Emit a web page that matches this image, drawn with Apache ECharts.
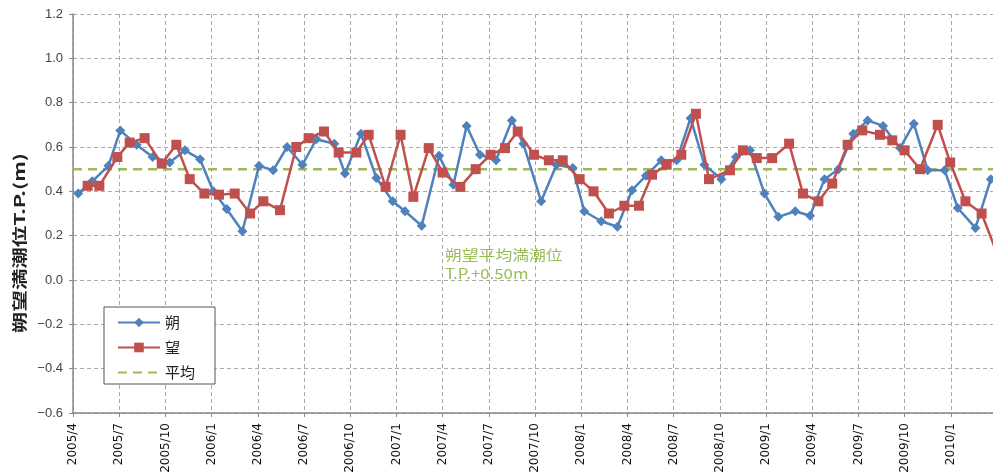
<!DOCTYPE html>
<html>
<head>
<meta charset="utf-8">
<script src="https://cdn.jsdelivr.net/npm/echarts@6/dist/echarts.min.js"></script>
<style>
html, body { margin: 0; padding: 0; background: #fff; }
#main { width: 993px; height: 476px; }
</style>
</head>
<body>
<div id="main"></div>
<script>
// months counted from 2005/4 (0 = 2005/4)
var sakuMonths = [0.34, 1.25, 2.3, 3.07, 4.13, 5.17, 6.28, 7.27, 8.25, 9.11, 9.98, 11.0, 12.08, 13.0, 13.9, 14.9, 15.8, 16.97, 17.66, 18.7, 19.7, 20.76, 21.56, 22.64, 23.77, 24.7, 25.56, 26.43, 27.47, 28.5, 29.24, 30.4, 31.4, 32.45, 33.2, 34.3, 35.35, 36.3, 37.2, 38.2, 39.2, 40.1, 41.0, 42.1, 43.05, 43.96, 44.9, 45.8, 46.9, 47.86, 48.8, 49.7, 50.67, 51.6, 52.6, 53.7, 54.6, 55.5, 56.6, 57.45, 58.6, 59.6];
var sakuValues = [0.39, 0.445, 0.515, 0.675, 0.61, 0.555, 0.53, 0.585, 0.545, 0.40, 0.32, 0.22, 0.515, 0.495, 0.60, 0.52, 0.635, 0.615, 0.48, 0.66, 0.46, 0.355, 0.31, 0.245, 0.56, 0.43, 0.695, 0.565, 0.54, 0.72, 0.615, 0.355, 0.52, 0.505, 0.31, 0.265, 0.24, 0.405, 0.47, 0.54, 0.54, 0.73, 0.52, 0.455, 0.555, 0.585, 0.39, 0.285, 0.31, 0.29, 0.455, 0.50, 0.66, 0.72, 0.695, 0.595, 0.705, 0.495, 0.495, 0.325, 0.235, 0.455];
var boMonths = [0.95, 1.71, 2.88, 3.68, 4.65, 5.76, 6.71, 7.58, 8.53, 9.48, 10.5, 11.5, 12.36, 13.44, 14.5, 15.3, 16.3, 17.25, 18.4, 19.2, 20.3, 21.27, 22.1, 23.1, 24.0, 25.15, 26.15, 27.12, 28.05, 28.88, 29.94, 30.9, 31.8, 32.9, 33.8, 34.8, 35.8, 36.75, 37.6, 38.55, 39.5, 40.45, 41.3, 42.66, 43.5, 44.4, 45.4, 46.5, 47.4, 48.4, 49.3, 50.3, 51.25, 52.4, 53.2, 54.0, 55.0, 56.15, 56.96, 57.95, 59.0, 60.0];
var boValues = [0.425, 0.425, 0.555, 0.62, 0.64, 0.525, 0.61, 0.455, 0.39, 0.385, 0.39, 0.30, 0.355, 0.315, 0.60, 0.64, 0.67, 0.575, 0.575, 0.655, 0.42, 0.655, 0.375, 0.595, 0.485, 0.42, 0.50, 0.565, 0.595, 0.67, 0.565, 0.54, 0.54, 0.455, 0.40, 0.30, 0.335, 0.335, 0.475, 0.52, 0.565, 0.75, 0.455, 0.495, 0.585, 0.55, 0.55, 0.615, 0.39, 0.355, 0.435, 0.61, 0.675, 0.655, 0.63, 0.585, 0.50, 0.70, 0.53, 0.355, 0.30, 0.12];
var meanLevel = 0.5;
var seriesNames = ['朔', '望', '平均'];

function pairs(xs, ys) {
    return xs.map(function (x, i) { return [x, ys[i]]; });
}
function monthLabel(m) {
    var t = 3 + Math.round(m);
    return (2005 + Math.floor(t / 12)) + '/' + (t % 12 + 1);
}

var jp = '"Noto Sans CJK JP", sans-serif';
var chart = echarts.init(document.getElementById('main'));
chart.setOption({
    backgroundColor: '#fff',
    animation: false,
    textStyle: { fontFamily: '"Liberation Sans", sans-serif' },
    // plot runs past the right edge of the picture (2010/4 would sit at ~997px)
    grid: { left: 73, top: 14, right: 0, height: 399 },
    legend: {
        orient: 'vertical',
        left: 104,
        top: 307,
        data: [
            { name: seriesNames[0] },
            { name: seriesNames[1] },
            { name: seriesNames[2], itemStyle: { opacity: 0 } }
        ],
        itemWidth: 42,
        itemHeight: 12,
        itemGap: 10,
        padding: [8, 20, 4, 13],
        backgroundColor: '#fff',
        borderColor: '#555',
        borderWidth: 1,
        textStyle: { fontSize: 15, color: '#222', fontFamily: jp }
    },
    xAxis: {
        type: 'value',
        min: 0,
        max: 59.74,
        interval: 3,
        axisLine: { onZero: false, lineStyle: { color: '#888', width: 1.5 } },
        axisTick: { show: true, length: 4, lineStyle: { color: '#888' } },
        splitLine: { show: true, lineStyle: { color: '#aaa', type: [4, 3], width: 1 } },
        axisLabel: {
            rotate: 90,
            margin: 10,
            fontSize: 12,
            color: '#111',
            fontFamily: '"DejaVu Sans", sans-serif',
            showMaxLabel: false,
            formatter: monthLabel
        }
    },
    yAxis: {
        type: 'value',
        min: -0.6,
        max: 1.2,
        interval: 0.2,
        axisLine: { show: true, lineStyle: { color: '#888', width: 1.5 } },
        axisTick: { show: true, length: 4, lineStyle: { color: '#888' } },
        splitLine: { show: true, lineStyle: { color: '#aaa', type: [4, 3], width: 1 } },
        axisLabel: {
            margin: 10,
            fontSize: 13,
            color: '#444',
            formatter: function (v) {
                var s = Math.abs(v).toFixed(1);
                return v < -1e-9 ? '\u2212' + s : s;
            }
        }
    },
    graphic: [
        {
            type: 'text',
            x: 12,
            y: 333,
            rotation: Math.PI / 2,
            scaleX: 1.43,
            style: {
                text: '朔望満潮位T.P.(m)',
                x: 0,
                y: 0,
                fontSize: 15,
                fontWeight: 'bold',
                fill: '#222',
                fontFamily: jp,
                verticalAlign: 'top'
            }
        },
        {
            type: 'text',
            x: 445,
            y: 245,
            scaleX: 1.2,
            style: {
                text: '朔望平均満潮位\nT.P.+0.50m',
                fontSize: 14,
                lineHeight: 19,
                fill: '#9bbb59',
                fontFamily: jp
            }
        }
    ],
    series: [
        {
            name: seriesNames[2],
            type: 'line',
            data: [[0, meanLevel], [60, meanLevel]],
            symbol: 'none',
            lineStyle: { color: '#9bbb59', width: 2.5, type: [9, 6] },
            itemStyle: { color: '#9bbb59' },
            z: 2
        },
        {
            name: seriesNames[0],
            type: 'line',
            data: pairs(sakuMonths, sakuValues),
            symbol: 'diamond',
            symbolSize: 10,
            lineStyle: { color: '#4f81bd', width: 2.5 },
            itemStyle: { color: '#4f81bd' },
            z: 3
        },
        {
            name: seriesNames[1],
            type: 'line',
            data: pairs(boMonths, boValues),
            symbol: 'rect',
            symbolSize: 10,
            lineStyle: { color: '#c0504d', width: 2.5 },
            itemStyle: { color: '#c0504d' },
            z: 4
        }
    ]
});
</script>
</body>
</html>
